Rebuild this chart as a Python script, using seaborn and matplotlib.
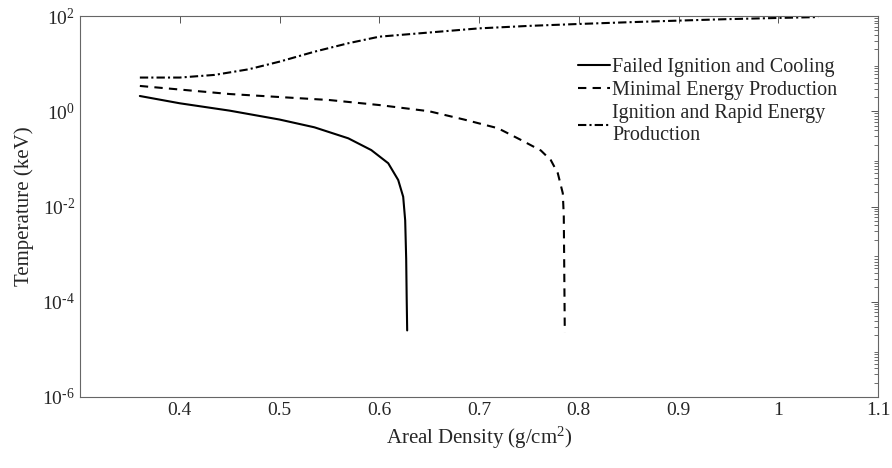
import numpy as np
import pandas as pd
import seaborn as sns
import matplotlib.pyplot as plt
from matplotlib.ticker import LogLocator, FixedLocator, NullFormatter

# ---- data ----
failed_x = [0.36, 0.40, 0.45, 0.50, 0.535, 0.569, 0.592, 0.609, 0.619, 0.624, 0.626, 0.627, 0.6275, 0.628]
failed_y = [2.09, 1.47, 1.03, 0.67, 0.46, 0.27, 0.153, 0.081, 0.036, 0.016, 0.0051, 8e-4, 1.2e-4, 2.5e-5]

minimal_x = [0.36, 0.45, 0.55, 0.60, 0.65, 0.685, 0.719, 0.742, 0.762, 0.772, 0.779, 0.784, 0.785, 0.7855, 0.786]
minimal_y = [3.4, 2.3, 1.72, 1.35, 1.0, 0.67, 0.44, 0.25, 0.15, 0.094, 0.05, 0.019, 0.0063, 4e-4, 2.3e-5]

ignition_x = [0.36, 0.40, 0.435, 0.469, 0.50, 0.535, 0.569, 0.60, 0.65, 0.70, 0.75, 0.80, 0.85, 0.90, 0.95, 1.00, 1.04]
ignition_y = [5.1, 5.1, 5.8, 7.6, 11, 17.8, 26.8, 36.8, 45, 55, 62, 68, 74, 80, 86, 91, 95]

labels = ["Failed Ignition and Cooling", "Minimal Energy Production",
          "Ignition and Rapid Energy\nProduction"]
x_ticks = [0.4, 0.5, 0.6, 0.7, 0.8, 0.9, 1.0, 1.1]
x_ticklabels = ["0.4", "0.5", "0.6", "0.7", "0.8", "0.9", "1", "1.1"]
y_ticks = [1e-6, 1e-4, 1e-2, 1e0, 1e2]
y_ticklabels = ["$10^{\\text{-6}}$", "$10^{\\text{-4}}$", "$10^{\\text{-2}}$", "$10^{0}$", "$10^{2}$"]

df = pd.concat([
    pd.DataFrame({"x": failed_x, "y": failed_y, "series": labels[0]}),
    pd.DataFrame({"x": minimal_x, "y": minimal_y, "series": labels[1]}),
    pd.DataFrame({"x": ignition_x, "y": ignition_y, "series": labels[2]}),
])

sns.set_style("white")
plt.rcParams['font.family'] = ['Liberation Serif', 'DejaVu Serif']
plt.rcParams['mathtext.fontset'] = 'custom'
plt.rcParams['mathtext.rm'] = 'Liberation Serif'
plt.rcParams['mathtext.it'] = 'Liberation Serif:italic'

fig = plt.figure(figsize=(8.92, 4.68), dpi=100)
ax = fig.add_axes([80/892, 1 - 397/468, (878-80)/892, (397-16)/468])

sns.lineplot(data=df, x="x", y="y", hue="series", style="series",
             palette=["black"]*3,
             dashes=[(), (4, 3), (4, 1.5, 1, 1.5)],
             sort=False, estimator=None, linewidth=1.5, ax=ax)

ax.set_yscale("log")
ax.set_xlim(0.3, 1.1)
ax.set_ylim(1e-6, 1e2)
ax.xaxis.set_major_locator(FixedLocator(x_ticks))
ax.set_xticklabels(x_ticklabels)
ax.yaxis.set_major_locator(FixedLocator(y_ticks))
ax.set_yticklabels(y_ticklabels)
ax.yaxis.set_minor_locator(LogLocator(base=10, subs=np.arange(2, 10), numticks=20))
ax.yaxis.set_minor_formatter(NullFormatter())

gray = "#262626"
for s in ax.spines.values():
    s.set_visible(True)
    s.set_color("#666666")
    s.set_linewidth(0.8)
ax.tick_params(which="both", direction="in", top=True, right=True,
               colors="#555555", labelcolor=gray, labelsize=14)
ax.tick_params(which="major", length=5, width=0.7)
ax.tick_params(which="minor", length=3, width=0.6)

ax.set_xlabel("Areal Density (g/cm$^2$)", fontsize=15, color=gray, labelpad=4)
ax.set_ylabel("Temperature (keV)", fontsize=15, color=gray, labelpad=6)

handles, lbls = ax.get_legend_handles_labels()
leg = ax.legend(handles, lbls, loc="upper left", bbox_to_anchor=((578-80)/798, 1 - (58-16)/381),
                frameon=False, fontsize=14.5, handlelength=1.6, handletextpad=0.1,
                labelspacing=0.2, borderaxespad=0, borderpad=0)
for t in leg.get_texts():
    t.set_color(gray)

fig.savefig("out.png", dpi=100)
